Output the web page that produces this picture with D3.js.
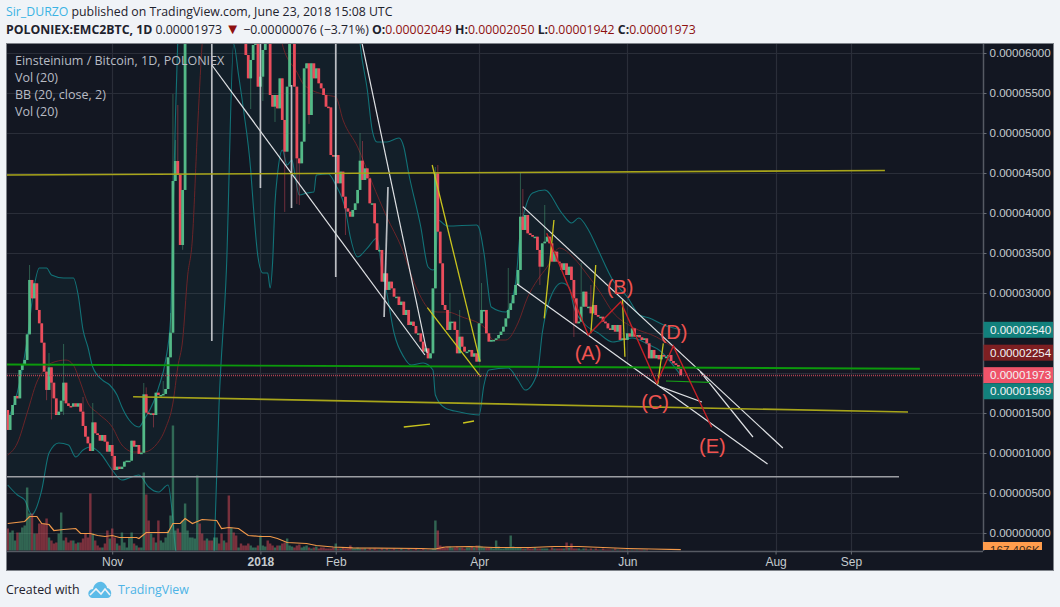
<!DOCTYPE html>
<html><head><meta charset="utf-8">
<script src="https://cdn.jsdelivr.net/npm/d3@7/dist/d3.min.js"></script>
<style>html,body{margin:0;padding:0;background:#f0f3f7;overflow:hidden}svg{display:block}</style>
</head><body><svg id="c" width="1060" height="607"></svg>
<script>
// all prices in satoshi (1e-8 BTC); days counted from the first candle
const closes=[1288,1475,1600,1713,1683,2038,2100,2163,2483,3163,2933,3121,2788,2621,2379,2017,1788,2071,1879,1683,1475,1517,1654,1879,1621,1588,1579,1621,1579,1621,1517,1338,1204,1121,1025,1383,1246,1225,1154,1225,1142,1017,1100,963,788,829,800,829,892,904,904,1154,1079,1100,988,1004,1733,1504,1496,1496,1475,1754,1725,1725,1738,1800,2196,2504,
4400,4650,4475,3600,4288,
6900,7400,8200,9000,9800,10500,9700,9100,8600,9300,8800,8200,8700,9200,8500,7900,8300,7800,7400,7900,7300,6900,7400,6800,6500,
5975,5683,5913,6100,6121,5579,5704,6038,6500,6204,
5475,5329,5475,5308,5683,5163,4767,5579,6121,6300,
5579,4683,4621,4892,5808,5871,5225,5871,5683,5808,
5621,5558,5475,5329,5320,4725,4704,4725,4371,4517,
4204,4058,4017,3954,4038,4121,4288,4654,4413,4558,
4433,4121,4121,3871,3538,3538,3142,3246,3038,3142,
3058,2954,2954,2850,2892,2725,2788,2600,2642,2588,
2496,2496,2392,2267,2308,2183,2246,3058,4496,3767,
3371,2850,2788,2538,2642,2642,2538,2246,2454,2329,
2267,2267,2288,2204,2246,2142,2621,2788,2788,2496,
2392,2413,2413,2433,2475,2517,2579,2683,2788,2871,
2975,3100,3288,3954,
3788,3975,3746,3725,3704,3704,3538,3329,
3621,3642,3704,3621,3392,3517,3392,3371,3288,3371,
3225,3329,3163,2933,2621,2642,2829,3017,2829,2829,
2746,2850,2725,2704,2704,2642,2621,2558,2538,2600,
2517,2600,2413,2433,2413,2496,2454,2558,2454,2475,
2446,2413,2433,2371,2183,2288,2183,2225,2171,2225,
2204,2204,2225,2150,2121,2100,2049,1973];
const firstOpen=1537;
const wickDays =[9,17,16,18,23,31,35,43,56,57,60,64,67,68,69,70,72,100,105,110,114,119,120,124,135,139,142,145,146,176,177,182,186,195,206,211,212,219,221,233,236,240];
const wickHighs=[3350,2250,null,null,2363,1700,1625,null,1875,1820,null,1900,2750,5488,4913,5350,null,null,null,null,null,null,null,null,5400,null,null,5000,4900,4575,4600,3000,2788,3125,3313,4500,4300,null,4100,null,3375,3100];
const wickLows =[null,null,1660,1420,1475,null,null,690,null,null,1320,null,null,null,null,null,3540,5300,5400,5138,4013,4113,4100,5113,3700,3725,3950,null,null,null,null,null,null,null,null,null,null,3100,null,2450,null,null];
// volume in units of 200K
const volumes=[22,18,20,10,18,18,23,25,63,37,37,17,17,27,27,27,32,13,10,7,8,17,38,10,13,8,10,10,7,8,8,12,17,13,57,17,10,5,3,3,7,20,12,22,13,7,5,18,8,3,13,18,7,5,3,3,78,56,30,17,13,8,30,10,8,13,20,35,125,20,22,18,30,47,20,13,13,12,75,27,17,10,12,10,10,13,13,7,17,10,8,55,23,18,15,3,7,5,5,7,5,3,3,5,15,5,4,10,7,5,3,5,5,7,8,12,5,4,3,5,6,3,4,5,3,2,3,4,2,3,3,2,2,2,3,7,2,2,3,2,2,5,2,2,3,2,2,2,1,2,1,2,1,1,2,1,2,1,1,2,1,1,2,1,1,2,1,1,2,1,1,2,1,1,1,2,30,20,5,4,3,4,4,3,3,4,3,3,2,3,3,4,3,5,5,4,3,3,3,3,2,10,4,2,2,3,3,15,4,3,3,3,2,2,3,2,2,3,2,2,2,2,2,1,3,2,2,2,2,2,8,3,7,2,2,2,1,2,2,1,2,1,2,1,1,2,1,1,1,1,2,1,1,1,1,1,1,1,1,1,1,1,1,1];
const maDays=[0,7,9,12,14,17,19,23,28,30,34,37,40,43,46,53,54,57,63,66,68,71,73,76,80,86,88,91,95,99,104,108,111,115,123,127,134,142,170,176,180,190,200,215,225,235,245,255,265,277];
const maVals=[27,29,34,34,27,26,20,21,22,17,17,15,14,15,13,13,12,18,18,18,27,27,32,27,31,30,22,23,22,15,14,14,12,8,7,5,3.5,2.7,2,1.5,3.5,4,3,3,4,4,3,2,1.5,.8];
const upperDays=[0,4,8,11,13,16,18,23,27,29,31,33,35,39,42,45,47,50,54,56,60,62,65,67,68,69,70,71,72,80,130,140,143,145,148,150,152,156,161,163,165,170,173,175,176,177,181,193,194,196,199,205,209,211,213,216,221,228,232,235,239,243,249,255,260,264,270,277];
const upperVals=[1412,1762,2412,3100,3312,3312,3225,3188,3188,2975,2538,2325,2075,1912,1850,1725,1575,1412,1325,1412,1637,1812,2162,2662,3912,5162,6162,7300,8500,11000,11000,8000,6900,6125,5537,5037,4887,4887,4937,4825,4500,3825,3325,3288,3312,3912,3837,3850,3812,3500,2825,2762,3125,3787,4062,4250,4287,4000,3875,3937,3787,3537,3162,2950,2725,2687,2600,2540];
const lowerDays=[0,4,7,10,11,14,17,21,25,28,31,34,38,43,47,54,58,62,66,68,69,72,80,85,87,90,93,95,97,100,101,103,105,107,108,109,110,111,113,115,117,118,120,123,126,127,132,135,139,141,144,148,152,154,156,159,163,166,171,175,176,180,186,194,196,198,206,210,213,218,220,223,228,231,233,237,243,249,257,264,268,277];
const lowerVals=[600,475,412,225,262,537,1000,1125,1100,950,1037,1075,1000,787,662,725,575,512,600,162,-187,-500,-3000,-212,1625,3287,6112,5725,5300,4537,4125,3450,3250,3250,3062,3375,4125,4475,4787,4600,4662,4512,4225,4250,4262,4475,4487,4350,4037,3700,3450,3562,3687,3287,3000,2500,2200,2100,2125,2037,1725,1562,1512,1475,1850,2037,2062,1912,1787,2000,2500,2912,3125,3075,2825,2625,2500,2387,2437,2350,2287,1969];
const basisDays=[0,4,8,12,16,18,24,27,30,33,37,43,47,52,56,61,65,68,70,72,74,76,78,80,90,105,113,119,122,131,135,138,144,150,156,162,168,174,177,181,187,196,200,205,210,214,218,222,227,233,238,244,249,257,267,277];
const basisVals=[975,1125,1500,1887,2075,2125,2162,2100,1875,1625,1500,1325,1100,1012,1012,1100,1312,1625,2075,2412,3200,3675,4975,6112,8500,8500,6112,5762,5600,5475,5450,5162,4825,4375,3950,3575,3075,2787,2762,2762,2700,2575,2412,2412,2625,2950,3162,3325,3562,3437,3250,3000,2762,2575,2450,2254];
// drawings: [day, price, day, price]
const whiteThin=[[84,5850,171.7,2225],[145.8,6125,172.6,2250],[212,4079,319,1062],[285,2016,306.7,1200],[209.6,3112,312.7,862],[268.4,1829,285.7,1637]];
const whiteBars=[[84,7000,84,2400],[104,7000,104,4312],[116.8,5600,116.8,4062],[135,7000,135,3200],[156.5,4325,154.9,2700]];
const baseLine=[[-0.5,703,366.8,703]];
const yellowLong=[[-0.5,4475,361,4531],[51.6,1704,370.5,1512]];
const yellowShort=[[174.7,4600,194.4,2141],[172.7,2816,194.6,1954],[224.8,3912,220.8,2683],[242,3350,240,2496],[253,2912,254,2204],[269.8,2371,267.5,1862],[163,1325,173.8,1362],[187.4,1375,191.9,1400]];
const greenLines=[[-0.5,2106,375.4,2054]];
const greenShort=[[270.9,1900,289,1884]];
const waveDays=[221.8,238.9,252.3,267.1,273.9,289.7];
const waveVals=[3746,2475,2891,1871,2337,1321];
const waveLabels=["(A)","(B)","(C)","(D)","(E)"];
const waveLabelDays=[238.8,252,266.4,274,290];
const waveLabelVals=[2250,3075,1635,2512,1087];
const priceTicks=[0,500,1000,1500,3000,3500,4000,4500,5000,5500,6000];
const gridTicks=[0,500,1000,1500,2000,2500,3000,3500,4000,4500,5000,5500,6000];
const monthTicks=[["2017-11-01","Nov"],["2018-01-01","2018"],["2018-02-01","Feb"],["2018-04-01","Apr"],["2018-06-01","Jun"],["2018-08-01","Aug"],["2018-09-01","Sep"]];
const priceFlags=[[2540,"#12807c","0.00002540"],[2254,"#7d1f22","0.00002254"],[1973,"#ef5369","0.00001973"],[1772,"#12807c","0.00001969"]];
const legendLines=["Einsteinium / Bitcoin, 1D, POLONIEX","Vol (20)","BB (20, close, 2)","Vol (20)"];

const svg=d3.select("#c");
const sans='"Open Sans","Noto Sans",sans-serif', arial='"Liberation Sans",Arial,sans-serif';
const t0=Date.UTC(2017,8,19), dayMs=864e5;
const x=d3.scaleUtc().domain([new Date(t0),new Date(t0+277*dayMs)]).range([7.7,680.8]);
const xd=d=>x(new Date(t0+d*dayMs));
const y=d3.scaleLinear().domain([0,6000]).range([533,53]);
const v=d3.scaleLinear().domain([0,100]).range([550.5,450.5]);
const BG="#131722",GRID="#2a2e39",AX="#c5cbce",FRAME="#7e8289";
svg.append("rect").attr("width",1060).attr("height",607).attr("fill","#f0f3f7");
svg.append("rect").attr("x",6.5).attr("y",43.5).attr("width",1047).attr("height",527).attr("fill",BG).attr("stroke",FRAME);
svg.append("clipPath").attr("id","pane").append("rect").attr("x",7).attr("y",44).attr("width",976).attr("height",507);
const pane=svg.append("g").attr("clip-path","url(#pane)");
// grid
pane.append("g").selectAll("line").data(gridTicks).join("line").attr("x1",7).attr("x2",983)
 .attr("y1",d=>Math.round(y(d))+.5).attr("y2",d=>Math.round(y(d))+.5).attr("stroke",GRID).attr("stroke-width",1.2);
pane.append("g").selectAll("line").data(monthTicks).join("line")
 .attr("x1",d=>Math.round(x(new Date(d[0])))+.5).attr("x2",d=>Math.round(x(new Date(d[0])))+.5)
 .attr("y1",44).attr("y2",551).attr("stroke",GRID).attr("stroke-width",1.2);
// bollinger
const upperPts=upperDays.map((d,i)=>[xd(d),y(upperVals[i])]);
const lowerPts=lowerDays.map((d,i)=>[xd(d),y(lowerVals[i])]);
const ln=d3.line().curve(d3.curveMonotoneX);
pane.append("path").attr("d",d3.line()(upperPts.concat(lowerPts.slice().reverse()))+"Z").attr("fill","#1a8a8a").attr("opacity",.07);
pane.append("path").attr("d",ln(upperPts)).attr("fill","none").attr("stroke","#127277").attr("stroke-width",1.1);
pane.append("path").attr("d",ln(lowerPts)).attr("fill","none").attr("stroke","#127277").attr("stroke-width",1.1);
pane.append("path").attr("d",ln(basisDays.map((d,i)=>[xd(d),y(basisVals[i])]))).attr("fill","none").attr("stroke","#6a2428").attr("stroke-width",1);
// candles data
const candles=closes.map((c,i)=>({i,o:i?closes[i-1]:firstOpen,c}));
candles.forEach(k=>{k.h=Math.max(k.o,k.c);k.l=Math.min(k.o,k.c);});
wickDays.forEach((d,n)=>{if(wickHighs[n]!=null)candles[d].h=wickHighs[n];if(wickLows[n]!=null)candles[d].l=wickLows[n];});
const GR="#53b987",RD="#eb4d5c";
// volume
pane.append("g").selectAll("rect").data(volumes).join("rect").attr("x",(d,i)=>xd(i)-1.2).attr("width",2.43)
 .attr("y",d=>v(d)).attr("height",d=>v(0)-v(d)).attr("fill",(d,i)=>candles[i].c>=candles[i].o?GR:RD).attr("opacity",.48);
pane.append("path").attr("d",d3.line().curve(d3.curveLinear)(maDays.map((d,i)=>[xd(d),v(maVals[i])]))).attr("fill","none").attr("stroke","#f2994a").attr("stroke-width",1.2);
// wicks & bodies
pane.append("g").selectAll("line").data(candles).join("line").attr("x1",d=>xd(d.i)).attr("x2",d=>xd(d.i))
 .attr("y1",d=>y(d.h)).attr("y2",d=>y(d.l)).attr("stroke",d=>d.c>=d.o?GR:RD).attr("stroke-width",1).attr("opacity",.42);
pane.append("g").selectAll("rect").data(candles).join("rect").attr("x",d=>xd(d.i)-1.4).attr("width",2.8)
 .attr("y",d=>y(Math.max(d.o,d.c))).attr("height",d=>Math.max(1.5,Math.abs(y(d.o)-y(d.c)))).attr("fill",d=>d.c>=d.o?GR:RD);
// drawings
function segs(list,col,w,op){pane.append("g").selectAll("line").data(list).join("line")
 .attr("x1",d=>xd(d[0])).attr("y1",d=>y(d[1])).attr("x2",d=>xd(d[2])).attr("y2",d=>y(d[3]))
 .attr("stroke",col).attr("stroke-width",w).attr("opacity",op==null?1:op);}
segs(whiteThin,"#dfe1e4",1.2);
segs(whiteBars,"#d8dade",1.7,.85);
segs(baseLine,"#9c9ea3",1.5);
segs(yellowLong,"#a8a51a",1.6);
segs(greenLines,"#0c9a0c",1.9);
segs(yellowShort,"#c9c41e",1.3);
segs(greenShort,"#17a017",1.2);
pane.append("path").attr("d",d3.line()(waveDays.map((d,i)=>[xd(d),y(waveVals[i])]))).attr("fill","none").attr("stroke","#c32026").attr("stroke-width",1.4);
// close line
pane.append("line").attr("x1",7).attr("x2",983).attr("y1",Math.round(y(1973))+.5).attr("y2",Math.round(y(1973))+.5)
 .attr("stroke","#c8485a").attr("stroke-width",1.6).attr("stroke-dasharray","1 1").attr("opacity",.85);
// wave labels
pane.append("g").selectAll("text").data(waveLabels).join("text").text(d=>d).attr("text-anchor","middle")
 .attr("x",(d,i)=>xd(waveLabelDays[i])).attr("y",(d,i)=>y(waveLabelVals[i])).attr("dy",".35em")
 .attr("font-family",arial).attr("font-size",20).attr("fill","#ef5350");
// legend
pane.append("g").selectAll("text").data(legendLines).join("text").text(d=>d).attr("x",15).attr("y",(d,i)=>65+i*17)
 .attr("font-family",sans).attr("font-size",12.5).attr("fill","#b8bcc4");
// axes
svg.append("line").attr("x1",983.5).attr("x2",983.5).attr("y1",44).attr("y2",551).attr("stroke","#565a63").attr("stroke-width",1.5);
svg.append("line").attr("x1",7).attr("x2",983).attr("y1",551.5).attr("y2",551.5).attr("stroke","#565a63").attr("stroke-width",1.5);
const ya=svg.append("g").attr("transform","translate(983.5,0)").call(d3.axisRight(y).tickValues(priceTicks).tickSize(3).tickPadding(3).tickFormat(d=>(d/1e8).toFixed(8)));
ya.select(".domain").remove();ya.selectAll("line").attr("stroke","#6a6e76");
ya.selectAll("text").attr("font-family",arial).attr("font-size",11.6).attr("fill",AX);
const xa=svg.append("g").attr("transform","translate(0,551.5)").call(d3.axisBottom(x).tickValues(monthTicks.map(d=>new Date(d[0]))).tickSize(3).tickPadding(3).tickFormat((d,i)=>monthTicks[i][1]));
xa.select(".domain").remove();xa.selectAll("line").attr("stroke","#6a6e76");
xa.selectAll("text").attr("font-family",arial).attr("font-size",12).attr("fill",AX).attr("font-weight",(d,i)=>monthTicks[i][1]==="2018"?"bold":"normal");
// price flags
const fg=svg.append("g").selectAll("g").data(priceFlags).join("g").attr("transform",d=>`translate(983.5,${y(d[0])})`);
fg.append("rect").attr("y",-8).attr("width",69.5).attr("height",16).attr("fill",d=>d[1]);
fg.append("text").text(d=>d[2]).attr("x",6.5).attr("dy",".36em").attr("font-family",arial).attr("font-size",11.6).attr("fill","#f2f3f5");
// orange volume flag (clipped by the pane bottom)
svg.append("clipPath").attr("id","vol").append("rect").attr("x",983).attr("y",542).attr("width",60).attr("height",8);
const vf=svg.append("g").attr("clip-path","url(#vol)");
vf.append("rect").attr("x",983).attr("y",542).attr("width",59).attr("height",16).attr("fill","#ff9d4d");
vf.append("text").text("167.406K").attr("x",990).attr("y",554).attr("font-family",arial).attr("font-size",11.6).attr("fill","#3a2a1a");
// header
const h1=svg.append("text").attr("x",6).attr("y",16).attr("font-family",sans).attr("font-size",12.3).attr("fill","#1e222d");
h1.append("tspan").text("Sir_DURZO").attr("fill","#3bb3e4");
h1.append("tspan").text(" published on TradingView.com, June 23, 2018 15:08 UTC");
const h2=svg.append("text").attr("x",6).attr("y",34).attr("font-family",sans).attr("font-size",12.3).attr("fill","#1e222d");
h2.append("tspan").text("POLONIEX:EMC2BTC, 1D").attr("font-weight","bold");
h2.append("tspan").text("  0.00001973 ");
h2.append("tspan").text("▼").attr("fill","#8e1010").attr("font-size",15);
h2.append("tspan").text(" −0.00000076 (−3.71%) ");
[["O:","0.00002049"],["H:","0.00002050"],["L:","0.00001942"],["C:","0.00001973"]].forEach(p=>{
 h2.append("tspan").text(p[0]).attr("font-weight","bold");
 h2.append("tspan").text(p[1]+" ").attr("fill","#8e1010");
});
// footer
svg.append("text").attr("x",6).attr("y",594).attr("font-family",sans).attr("font-size",12.4).attr("fill","#1e222d").text("Created with");
svg.append("text").attr("x",118).attr("y",594).attr("font-family",sans).attr("font-size",12.4).attr("fill","#4db3e6").text("TradingView");
const logo=svg.append("g").attr("transform","translate(88,581)");
logo.append("path").attr("d","M1 15C-1 11 2 8 5 8C6 3 10 0 14 1C17 2 19 5 19 7C22 7 24 11 23 14C22 17 20 17 18 17L4 17C3 17 2 16 1 15Z").attr("fill","#5cbbe8");
logo.append("path").attr("d","M2 14L8 8L13 13L17 8L22 14").attr("fill","none").attr("stroke","#f0f3f7").attr("stroke-width",1.6);
</script></body></html>
